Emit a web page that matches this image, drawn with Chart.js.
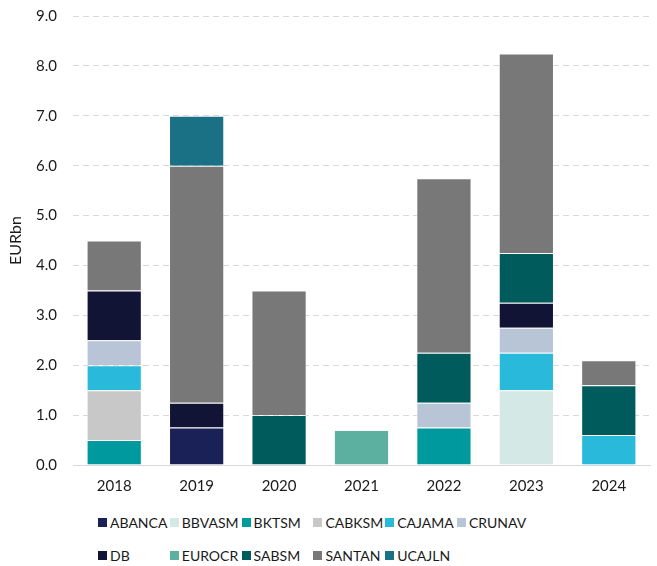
<!DOCTYPE html>
<html>
<head>
<meta charset="utf-8">
<script src="https://cdn.jsdelivr.net/npm/chart.js@4/dist/chart.umd.min.js"></script>
<style>
  html, body { margin: 0; padding: 0; background: #fff; overflow: hidden; }
  #wrap { position: relative; width: 657px; height: 566px; overflow: hidden; }
  #c { position: absolute; left: 0; top: -9px; }
  #legend { position: absolute; left: 98px; top: 514px; display: grid;
    grid-template-columns: repeat(6, 71.8px); row-gap: 16px;
    font-family: Lato, "Open Sans", sans-serif; font-size: 14px; color: #1a1a1a; }
  .item { display: flex; align-items: center; height: 17px; white-space: nowrap; }
  .box { width: 9px; height: 9px; margin-right: 3px; flex: none; }
</style>
</head>
<body>
<div id="wrap">
  <canvas id="c" width="657" height="516"></canvas>
  <div id="legend"></div>
</div>
<script>
const categories = ["2018", "2019", "2020", "2021", "2022", "2023", "2024"];
const seriesNames = ["ABANCA", "BBVASM", "BKTSM", "CABKSM", "CAJAMA", "CRUNAV", "DB", "EUROCR", "SABSM", "SANTAN", "UCAJLN"];
const ABANCA = [null, 0.75, null, null, null, null, null];
const BBVASM = [null, null, null, null, null, 1.5, null];
const BKTSM  = [0.5, null, null, null, 0.75, null, null];
const CABKSM = [1.0, null, null, null, null, null, null];
const CAJAMA = [0.5, null, null, null, null, 0.75, 0.6];
const CRUNAV = [0.5, null, null, null, 0.5, 0.5, null];
const DB     = [1.0, 0.5, null, null, null, 0.5, null];
const EUROCR = [null, null, null, 0.7, null, null, null];
const SABSM  = [null, null, 1.0, null, 1.0, 1.0, 1.0];
const SANTAN = [1.0, 4.75, 2.5, null, 3.5, 4.0, 0.5];
const UCAJLN = [null, 1.0, null, null, null, null, null];
const yTicks = [0, 1, 2, 3, 4, 5, 6, 7, 8, 9];
const axisTitle = "EURbn";

const seriesValues = [ABANCA, BBVASM, BKTSM, CABKSM, CAJAMA, CRUNAV, DB, EUROCR, SABSM, SANTAN, UCAJLN];
const colors = ["#1a2157", "#d4e9e5", "#00999d", "#c8c8c8", "#29b9db", "#b8c5d6",
                "#111434", "#5cb0a0", "#005b5c", "#787878", "#1a7084"];

const datasets = seriesNames.map((n, i) => ({
  label: n,
  data: seriesValues[i],
  backgroundColor: colors[i],
  borderColor: "rgba(255,255,255,0.35)",
  borderWidth: 1,
  barPercentage: 0.67,
  categoryPercentage: 1.0
}));

const font = { family: "Lato, 'Open Sans', sans-serif", size: 15 };

new Chart(document.getElementById("c"), {
  type: "bar",
  data: { labels: categories, datasets },
  options: {
    responsive: false,
    animation: false,
    layout: { padding: { left: 6, right: 7, top: 6, bottom: 0 } },
    plugins: { legend: { display: false }, tooltip: { enabled: false } },
    scales: {
      x: {
        stacked: true,
        grid: { display: false, drawTicks: false },
        border: { display: true, color: "#d9d9d9", width: 1 },
        ticks: { color: "#1a1a1a", font, padding: 12 }
      },
      y: {
        stacked: true,
        min: 0, max: 9,
        afterBuildTicks: (s) => { s.ticks = yTicks.map(v => ({ value: v })); },
        afterFit: (s) => { s.width = 67; },
        grid: {
          color: (ctx) => ctx.tick && ctx.tick.value === 0 ? "rgba(0,0,0,0)" : "#d9d9d9",
          drawTicks: false, lineWidth: 1
        },
        border: { display: false, dash: [6, 4] },
        ticks: { color: "#1a1a1a", font, padding: 16, callback: (v) => Number(v).toFixed(1) },
        title: { display: true, text: axisTitle, color: "#1a1a1a", font: { family: font.family, size: 16 }, padding: { top: 0, bottom: 0 } }
      }
    }
  }
});

const leg = document.getElementById("legend");
seriesNames.forEach((n, i) => {
  const d = document.createElement("div");
  d.className = "item";
  d.innerHTML = '<span class="box" style="background:' + colors[i] + '"></span><span>' + n + '</span>';
  leg.appendChild(d);
});
</script>
</body>
</html>
